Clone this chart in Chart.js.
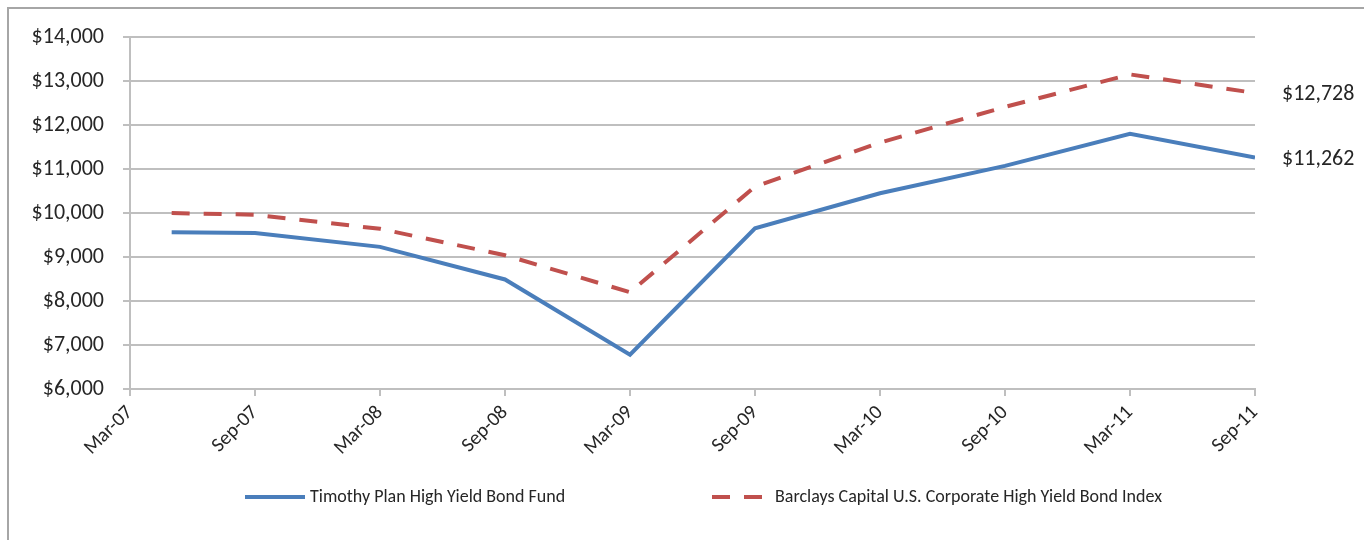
<!DOCTYPE html>
<html>
<head>
<meta charset="utf-8">
<script src="https://cdn.jsdelivr.net/npm/chart.js@4/dist/chart.umd.min.js"></script>
<style>
  html, body { margin: 0; padding: 0; background: #fff; }
  #wrap { position: relative; width: 1364px; height: 540px; overflow: hidden; }
  #frame { position: absolute; left: 7px; top: 7px; width: 1400px; height: 600px; border: 2px solid #a6a6a6; box-sizing: border-box; }
  canvas { position: absolute; left: 0; top: 0; }
</style>
</head>
<body>
<div id="wrap">
  <div id="frame"></div>
  <canvas id="chart" width="1364" height="540"></canvas>
</div>
<script>
// Meses desde Mar-07
const xTickLabels = ['Mar-07', 'Sep-07', 'Mar-08', 'Sep-08', 'Mar-09', 'Sep-09', 'Mar-10', 'Sep-10', 'Mar-11', 'Sep-11'];
const months = [2, 6, 12, 18, 24, 30, 36, 42, 48, 54];
const fundValues  = [9560, 9545, 9230, 8490, 6780, 9650, 10450, 11070, 11800, 11262];
const indexValues = [10000, 9960, 9640, 9040, 8200, 10600, 11600, 12410, 13150, 12728];
const fundName  = 'Timothy Plan High Yield Bond Fund';
const indexName = 'Barclays Capital U.S. Corporate High Yield Bond Index';

const FONT = "Carlito, Lato, sans-serif";
const BLUE = '#4a7ebb', RED = '#c0504d', GRID = '#bfbfbf', TXT = '#262626';
const money = v => '$' + Number(v).toLocaleString('en-US');

const toPts = vals => vals.map((v, i) => ({ x: months[i], y: v }));

// etiquetas al final de cada serie
const endLabels = {
  id: 'endLabels',
  afterDatasetsDraw(chart) {
    const ctx = chart.ctx;
    ctx.save();
    ctx.font = `22px ${FONT}`;
    ctx.fillStyle = TXT;
    ctx.textBaseline = 'middle';
    chart.data.datasets.forEach((ds, i) => {
      const meta = chart.getDatasetMeta(i);
      const p = meta.data[meta.data.length - 1];
      ctx.fillText(money(ds.data[ds.data.length - 1].y), p.x + 27, p.y + 2);
    });
    ctx.restore();
  }
};

// leyenda abajo
const bottomLegend = {
  id: 'bottomLegend',
  afterDraw(chart) {
    const ctx = chart.ctx;
    const y = 497;
    ctx.save();
    ctx.font = `18px ${FONT}`;
    ctx.fillStyle = TXT;
    ctx.textBaseline = 'middle';
    ctx.lineWidth = 4;

    ctx.strokeStyle = BLUE;
    ctx.beginPath(); ctx.moveTo(245, y); ctx.lineTo(305, y); ctx.stroke();
    ctx.fillText(fundName, 310, y);

    ctx.strokeStyle = RED;
    ctx.setLineDash([18, 14]);
    ctx.beginPath(); ctx.moveTo(712, y); ctx.lineTo(767, y); ctx.stroke();
    ctx.setLineDash([]);
    ctx.fillText(indexName, 775, y);
    ctx.restore();
  }
};

new Chart(document.getElementById('chart'), {
  type: 'line',
  data: {
    datasets: [
      { label: fundName, data: toPts(fundValues), borderColor: BLUE, borderWidth: 4, pointRadius: 0, tension: 0 },
      { label: indexName, data: toPts(indexValues), borderColor: RED, borderWidth: 4, borderDash: [18, 14], pointRadius: 0, tension: 0 },
    ]
  },
  options: {
    responsive: false,
    animation: false,
    layout: { padding: { left: 0, right: 109, top: 37, bottom: 0 } },
    plugins: { legend: { display: false }, tooltip: { enabled: false } },
    scales: {
      x: {
        type: 'linear', min: 0, max: 54,
        afterFit: s => { s.height = 151; },
        grid: { drawOnChartArea: false, drawTicks: true, tickLength: 7, color: GRID, lineWidth: 2 },
        border: { color: GRID, width: 2 },
        ticks: {
          stepSize: 6, autoSkip: false, minRotation: 45, maxRotation: 45, padding: 5,
          color: TXT, font: { family: FONT, size: 20 },
          callback: v => xTickLabels[v / 6]
        }
      },
      y: {
        min: 6000, max: 14000,
        afterFit: s => { s.width = 130; },
        grid: { color: GRID, lineWidth: 2, tickLength: 7 },
        border: { color: GRID, width: 2 },
        ticks: { stepSize: 1000, padding: 19, color: TXT, font: { family: FONT, size: 22 }, callback: v => money(v) }
      }
    }
  },
  plugins: [endLabels, bottomLegend]
});
</script>
</body>
</html>
